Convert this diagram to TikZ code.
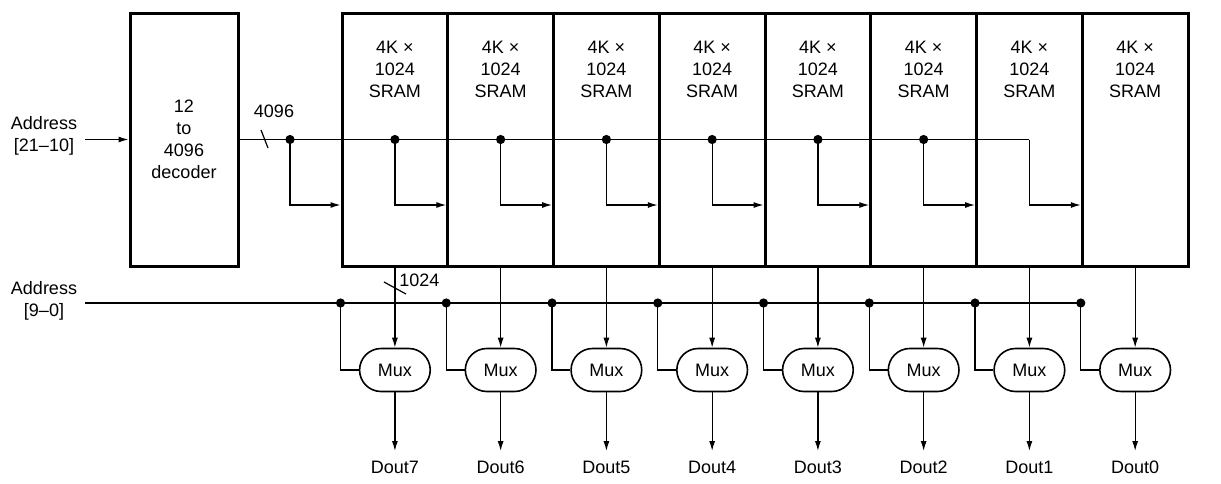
\documentclass[tikz,border=0pt]{standalone}
\usepackage{fontspec}
\setmainfont{Liberation Sans}
\usetikzlibrary{shapes.misc,arrows.meta}

\begin{document}
\begin{tikzpicture}[x=0.5pt, y=-0.5pt, >={Latex[length=5pt,width=3pt]},
	font=\fontsize{9}{11}\selectfont,
	blk/.style={draw=black, line width=1.5pt, minimum height=126.5pt, inner sep=0pt},
	mux/.style={rounded rectangle, draw=black, line width=0.8pt, minimum width=42pt, minimum height=21.5pt},
	wire/.style={line width=0.6pt},
	dot/.style={circle, fill=black, inner sep=0pt, minimum size=4.6pt}]
	\useasboundingbox (0,0) rectangle (1221,483);

	\node[align=center] (addrHi) at (44,136) {Address\\{[21\textendash10]}};
	\node[blk, minimum width=54pt, align=center] (decoder) at (184,139.5) {12\\to\\4096\\decoder};
	\draw[wire,->] (85,0 |- decoder.west) -- (decoder.west);

	\foreach \i in {0,...,7}{
		\node[blk, minimum width=52.875pt] (sram\i) at ({394.9+105.75*\i},139.5) {};
		\node[align=center] (sramTxt\i) at ([yshift=-29pt]sram\i.north) {4K ×\\1024\\SRAM};
	}

	% row decoder bus
	\coordinate (inY) at (0,205);
	\coordinate (tapD) at (290,139.5);
	\coordinate (busEnd) at (sram6.center |- decoder.east);
	\draw[wire] (decoder.east) -- (busEnd);
	\draw[wire] (261,130) -- (268,148);
	\node (busWidth) at (274,111) {4096};
	\draw[wire,->] (tapD) |- (sram0.west |- inY);
	\node[dot] (dotD) at (tapD) {};
	\foreach \i [count=\j from 1] in {0,...,6}
		\draw[wire,->] (sram\i.center |- busEnd) |- (sram\j.west |- inY);
	\foreach \i in {0,...,5}
		\node[dot] (dotBus\i) at (sram\i.center |- busEnd) {};

	% column select and muxes
	\node[align=center] (addrLo) at (44,301) {Address\\{[9\textendash0]}};
	\coordinate (selY) at (0,303);
	\coordinate (muxY) at (0,370);
	\coordinate (outY) at (0,451);
	\coordinate (labY) at (0,467);
	\draw[wire] (85,303) -- (sram7.south west |- selY);
	\foreach \i [evaluate=\i as \n using int(7-\i)] in {0,...,7}{
		\node[mux] (mux\i) at (sram\i.center |- muxY) {Mux};
		\node[dot] (dotSel\i) at (sram\i.south west |- selY) {};
		\draw[wire] (dotSel\i.center) |- (mux\i.west);
		\draw[wire,->] (sram\i.south) -- (mux\i.north);
		\draw[wire,->] (mux\i.south) -- (mux\i.south |- outY);
		\node (dout\i) at (sram\i.center |- labY) {Dout\n};
	}
	\draw[wire] (384,282) -- (406,294);
	\node[anchor=west, inner sep=0pt] (selWidth) at (399,280) {1024};
\end{tikzpicture}
\end{document}
